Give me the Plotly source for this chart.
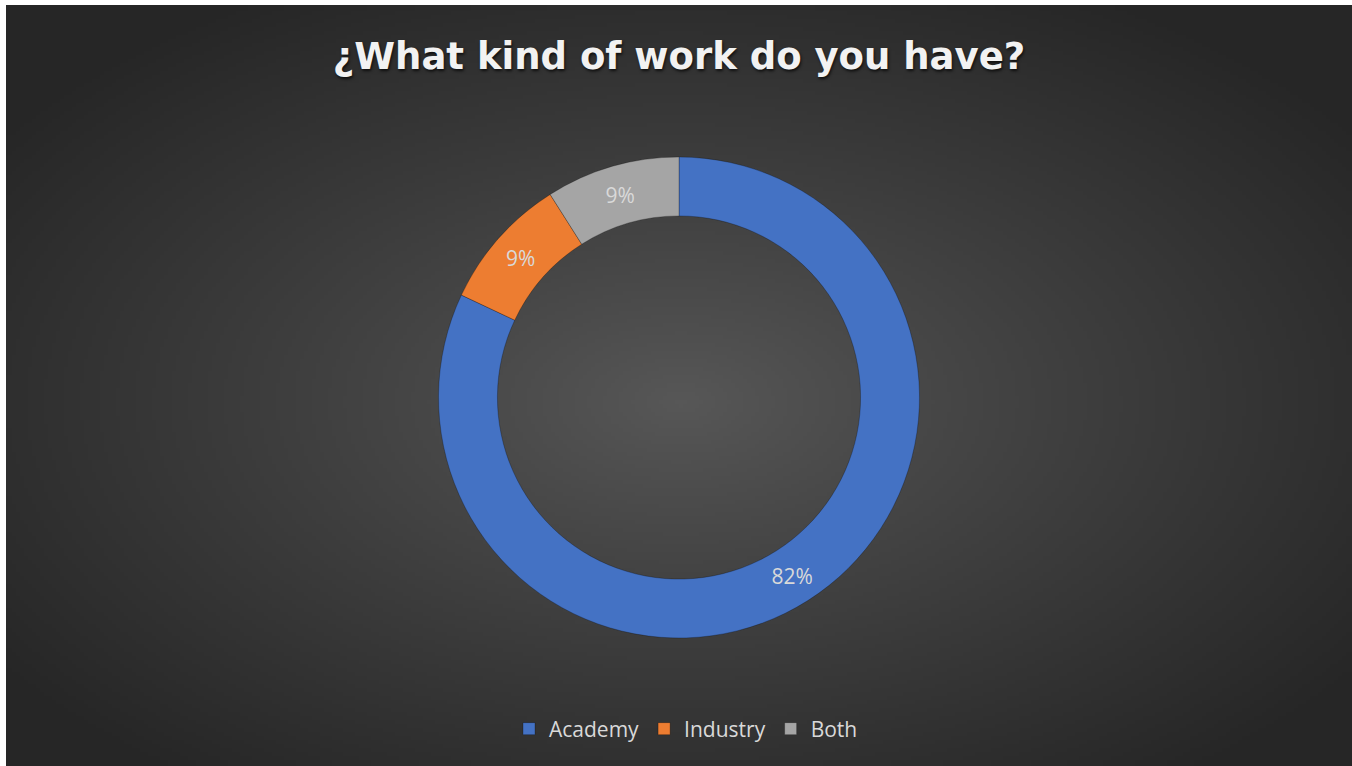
import base64, struct, zlib
import numpy as np
import plotly.graph_objects as go

# ---- data ----
categories = ["Academy", "Industry", "Both"]
values = [82, 9, 9]
colors = ["#4472C4", "#ED7D31", "#A5A5A5"]
title_text = "¿What kind of work do you have?"

W, H = 1352, 766

# ---- radial gradient background as PNG ----
def make_png(arr):
    h, w = arr.shape
    raw = b"".join(b"\x00" + arr[i].tobytes() for i in range(h))
    def chunk(t, d):
        c = struct.pack(">I", len(d)) + t + d
        return c + struct.pack(">I", zlib.crc32(t + d) & 0xffffffff)
    png = b"\x89PNG\r\n\x1a\n"
    png += chunk(b"IHDR", struct.pack(">IIBBBBB", w, h, 8, 0, 0, 0, 0))
    png += chunk(b"IDAT", zlib.compress(raw, 9))
    png += chunk(b"IEND", b"")
    return "data:image/png;base64," + base64.b64encode(png).decode()

gw, gh = 337, 190
yy, xx = np.mgrid[0:gh, 0:gw]
cx, cy = (679 - 6) / 1346 * gw, (400 - 5) / 761 * gh
t = np.sqrt(((xx - cx) / (gw * 0.5)) ** 2 + ((yy - cy) / (gh * 0.5)) ** 2)
t = np.clip(t / 1.25, 0, 1)
center_v, edge_v = 88, 38
g = (center_v - (center_v - edge_v) * t ** 0.9).astype(np.uint8)
bg_src = make_png(g)

fig = go.Figure()
fig.add_trace(go.Pie(
    labels=categories,
    values=values,
    hole=0.755,
    sort=False,
    direction="clockwise",
    rotation=0,
    marker=dict(colors=colors, line=dict(color="rgba(0,0,0,0.25)", width=1)),
    texttemplate="%{percent:.0%}",
    textposition="inside",
    insidetextorientation="horizontal",
    textfont=dict(color="#D9D9D9", size=21, family="Open Sans"),
    domain=dict(x=[(679 - 400) / W, (679 + 400) / W], y=[(H - 638) / H, (H - 157) / H]),
    hoverinfo="label+percent",
))

fig.update_layout(
    width=W, height=H,
    margin=dict(l=0, r=0, t=0, b=0),
    paper_bgcolor="white",
    images=[dict(
        source=bg_src, xref="paper", yref="paper",
        x=6 / W, y=1 - 5 / H, sizex=1 - 6 / W, sizey=1 - 5 / H,
        xanchor="left", yanchor="top", sizing="stretch", layer="below",
    )],
    title=dict(
        text=title_text, x=679 / W, xanchor="center",
        y=1 - 56 / H, yanchor="middle",
        font=dict(family="DejaVu Sans", size=37, color="#F2F2F2", weight="bold",
                  shadow="1px 2px 3px rgba(0,0,0,0.7)"),
    ),
    showlegend=True,
    legend=dict(
        orientation="h", x=686 / W, xanchor="center", y=1 - 729 / H, yanchor="middle",
        font=dict(family="Open Sans", size=21, color="#D9D9D9"),
        bgcolor="rgba(0,0,0,0)", itemwidth=30,
    ),
)

fig.write_html("out.html")
